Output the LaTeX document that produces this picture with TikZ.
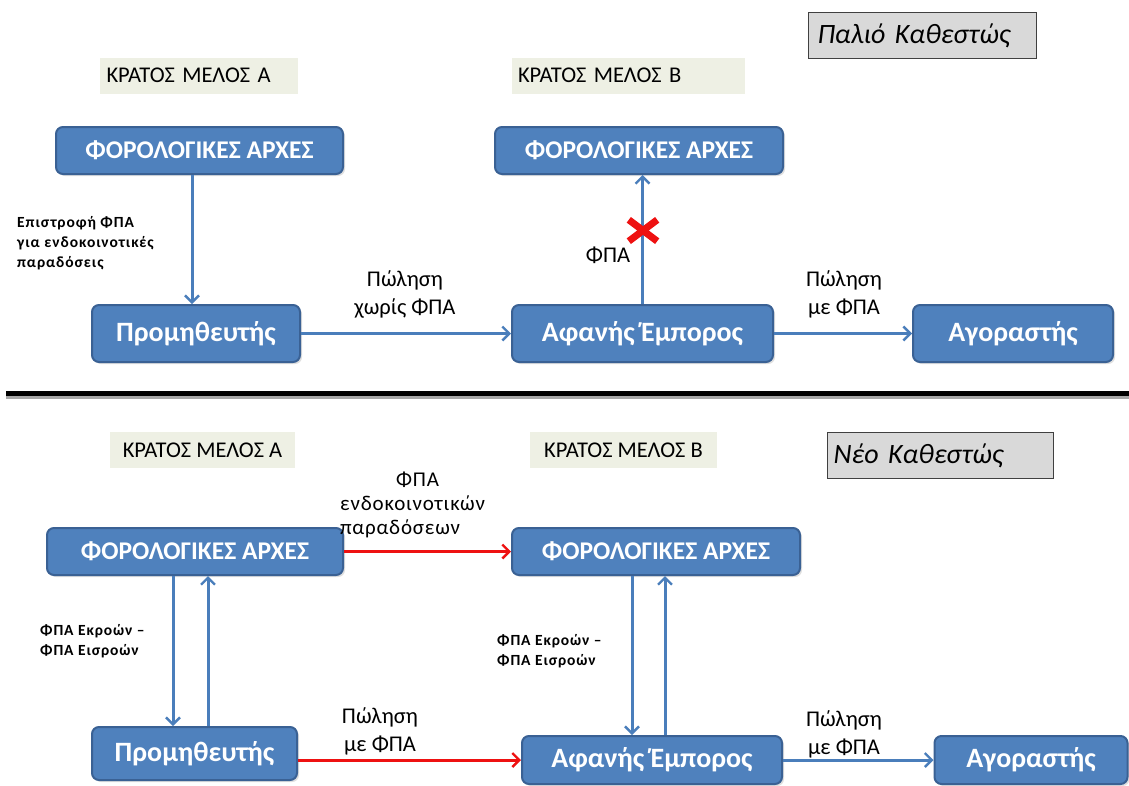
\documentclass[tikz,border=0pt]{standalone}
\usepackage{fontspec}
\setmainfont{Carlito}
\usetikzlibrary{arrows.meta,shadows}
\definecolor{boxblue}{HTML}{4F81BD}
\definecolor{boxedge}{HTML}{3A6194}
\definecolor{flowblue}{HTML}{4A7EBB}
\definecolor{flowred}{HTML}{EE1111}
\definecolor{statefill}{HTML}{EEF0E4}
\definecolor{regimefill}{HTML}{D9D9D9}
\tikzset{
  party/.style={draw=boxedge, fill=boxblue, line width=2pt, rounded corners=7pt,
    text=white, font=\fontsize{28}{32}\selectfont\bfseries, inner sep=0pt,
    drop shadow={shadow xshift=2pt, shadow yshift=-2pt, opacity=0.25}},
  authority/.style={party, font=\fontsize{25.5}{30}\selectfont\bfseries},
  statelabel/.style={fill=statefill, font=\fontsize{22.5}{26}\selectfont,
    minimum height=36pt, inner sep=0pt},
  regime/.style={draw=black!75, fill=regimefill, line width=1pt,
    font=\fontsize{28}{32}\selectfont\itshape, inner sep=0pt, minimum height=46pt},
  flow/.style={draw=flowblue, line width=3pt, -{Straight Barb[length=7pt,width=14pt,line width=2.4pt]}},
  redflow/.style={flow, draw=flowred},
  edgetext/.style={font=\fontsize{22.5}{28}\selectfont, align=center, inner sep=0pt},
  notetext/.style={font=\fontsize{15.5}{20}\selectfont\bfseries\addfontfeatures{LetterSpace=6}, align=left, inner sep=0pt},
}
\begin{document}
\begin{tikzpicture}[x=1pt, y=-1pt]
\useasboundingbox (0,0) rectangle (1129,785);
\fill[white] (0,0) rectangle (1129,785);

% ---------- previous regime ----------
\node[regime, minimum width=228pt, anchor=north west, text width=214pt, align=left] (old) at (808,12) {\hspace*{2pt}Παλιό Καθεστώς};
\node[statelabel, minimum width=198pt, text width=185pt, align=left] (stA1) at (199,75.5) {ΚΡΑΤΟΣ ΜΕΛΟΣ Α};
\node[statelabel, minimum width=233pt, text width=221pt, align=left] (stB1) at (628.5,75.5) {ΚΡΑΤΟΣ ΜΕΛΟΣ Β};

\node[authority, minimum width=287pt, minimum height=47pt] (taxA1) at (199.5,150.5) {ΦΟΡΟΛΟΓΙΚΕΣ ΑΡΧΕΣ};
\node[authority, minimum width=288pt, minimum height=47pt] (taxB1) at (639,150.5) {ΦΟΡΟΛΟΓΙΚΕΣ ΑΡΧΕΣ};
\node[party, minimum width=208pt, minimum height=57pt] (sup1) at (196,333.5) {Προμηθευτής};
\node[party, minimum width=261pt, minimum height=57pt] (mid1) at (642.5,333.5) {Αφανής Έμπορος};
\node[party, minimum width=200pt, minimum height=57pt] (buy1) at (1013,333.5) {Αγοραστής};

\draw[flow] ([xshift=-7.5pt]taxA1.south) coordinate (refund) -- (refund |- sup1.north);
\draw[flow] (sup1.east) -- (mid1.west);
\draw[flow] (mid1.east) -- (buy1.west);
\draw[flow] (mid1.north) -- (mid1.north |- taxB1.south);

% blocked payment mark
\node[inner sep=0pt, minimum width=28pt, minimum height=21pt] (block) at (643,230.5) {};
\draw[flowred, line width=7pt] (block.north west) -- (block.south east)
  (block.north east) -- (block.south west);

\node[notetext, anchor=north west] (refundtext) at (17,216) {Επιστροφή ΦΠΑ\\για ενδοκοινοτικές\\παραδόσεις};
\node[edgetext] (sale1) at (405,294) {Πώληση\\χωρίς ΦΠΑ};
\node[edgetext] (sale2) at (844,294) {Πώληση\\με ΦΠΑ};
\node[edgetext] (vat1) at (608,255) {ΦΠΑ};

% ---------- separator ----------
\draw[black!35, line width=4pt] (6,397) -- (1129,397);
\draw[black, line width=5pt] (6,393) -- (1129,393);

% ---------- new regime ----------
\node[regime, minimum width=226pt, anchor=north west, text width=214pt, align=left] (new) at (827,432) {Νέο Καθεστώς};
\node[statelabel, minimum width=185pt] (stA2) at (202.5,450) {ΚΡΑΤΟΣ ΜΕΛΟΣ Α};
\node[statelabel, minimum width=187pt] (stB2) at (623.5,450) {ΚΡΑΤΟΣ ΜΕΛΟΣ Β};

\node[authority, minimum width=296pt, minimum height=47pt] (taxA2) at (195,551.5) {ΦΟΡΟΛΟΓΙΚΕΣ ΑΡΧΕΣ};
\node[authority, minimum width=288pt, minimum height=47pt] (taxB2) at (656,551.5) {ΦΟΡΟΛΟΓΙΚΕΣ ΑΡΧΕΣ};
\node[party, minimum width=205pt, minimum height=53pt] (sup2) at (194.5,753.5) {Προμηθευτής};
\node[party, minimum width=260pt, minimum height=48pt] (mid2) at (652,760) {Αφανής Έμπορος};
\node[party, minimum width=193pt, minimum height=48pt] (buy2) at (1031,760) {Αγοραστής};

\draw[redflow] (taxA2.east) -- (taxB2.west);
\draw[redflow] (sup2.east |- mid2.west) -- (mid2.west);
\draw[flow] (mid2.east) -- (buy2.west);

\draw[flow] ([xshift=-22pt]taxA2.south) coordinate (downA) -- (downA |- sup2.north);
\draw[flow] ([xshift=13pt]taxA2.south |- sup2.north) coordinate (upA) -- (upA |- taxA2.south);
\draw[flow] ([xshift=-24pt]taxB2.south) coordinate (downB) -- (downB |- mid2.north);
\draw[flow] ([xshift=9pt]taxB2.south |- mid2.north) coordinate (upB) -- (upB |- taxB2.south);

\node[edgetext, align=left, anchor=north west, font=\fontsize{21}{24}\selectfont\addfontfeatures{LetterSpace=4}] (vat2) at (340,472) {\hspace*{56pt}ΦΠΑ\\ενδοκοινοτικών\\παραδόσεων};
\node[notetext, anchor=north west] (balA) at (40,624) {ΦΠΑ Εκροών –\\ΦΠΑ Εισροών};
\node[notetext, anchor=north west] (balB) at (497,634) {ΦΠΑ Εκροών –\\ΦΠΑ Εισροών};
\node[edgetext] (sale3) at (380,731) {Πώληση\\με ΦΠΑ};
\node[edgetext] (sale4) at (844,734) {Πώληση\\με ΦΠΑ};
\end{tikzpicture}
\end{document}
